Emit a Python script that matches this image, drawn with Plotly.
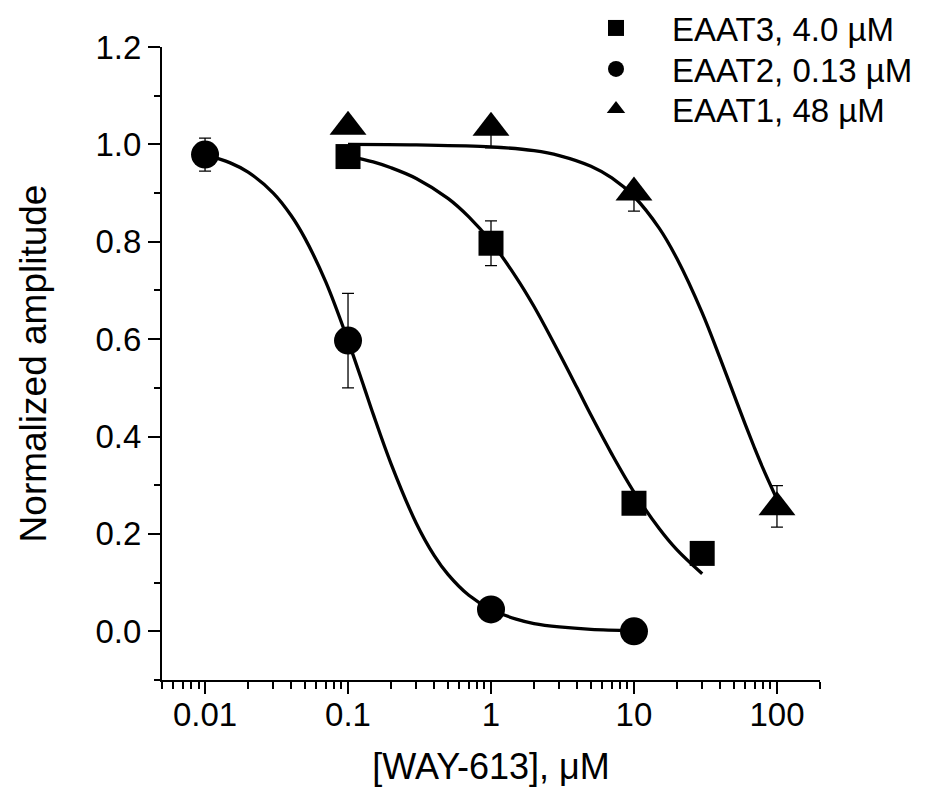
import plotly.graph_objects as go

conc_eaat3 = [0.1, 1, 10, 30]
amp_eaat3 = [0.975, 0.797, 0.263, 0.160]
errp_eaat3 = [0.01, 0.046, 0.01, 0.01]
errm_eaat3 = [0.01, 0.046, 0.01, 0.01]

conc_eaat2 = [0.01, 0.1, 1, 10]
amp_eaat2 = [0.979, 0.597, 0.045, 0.0]
errp_eaat2 = [0.034, 0.097, 0.01, 0.01]
errm_eaat2 = [0.034, 0.097, 0.01, 0.01]

conc_eaat1 = [0.1, 1, 10, 100]
amp_eaat1 = [1.036, 1.034, 0.901, 0.255]
errp_eaat1 = [0.01, 0.01, 0.01, 0.044]
errm_eaat1 = [0.01, 0.041, 0.038, 0.041]

# ---- fitted curves ----
fit3_x = [0.1, 0.15, 0.2, 0.3, 0.5, 0.7, 1, 1.5, 2, 3, 4, 5, 7, 10, 15, 20, 30]
fit3_y = [0.976, 0.964, 0.952, 0.930, 0.889, 0.851, 0.800, 0.727, 0.667, 0.571,
          0.500, 0.444, 0.364, 0.286, 0.211, 0.167, 0.118]

fit2_x = [0.01, 0.015, 0.02, 0.03, 0.04, 0.05, 0.07, 0.1, 0.13, 0.15, 0.2, 0.3,
          0.4, 0.5, 0.7, 1, 1.5, 2, 3, 5, 10]
fit2_y = [0.979, 0.962, 0.943, 0.900, 0.854, 0.807, 0.717, 0.597, 0.500, 0.446,
          0.344, 0.222, 0.156, 0.117, 0.074, 0.045, 0.025, 0.016, 0.009, 0.004, 0.0015]

fit1_x = [0.1, 0.3, 1, 2, 3, 5, 7, 10, 15, 20, 30, 40, 48, 60, 70, 80, 100]
fit1_y = [1.000, 0.999, 0.995, 0.987, 0.977, 0.955, 0.931, 0.893, 0.828, 0.765,
          0.654, 0.561, 0.500, 0.425, 0.375, 0.334, 0.271]

labels = ["EAAT3, 4.0 µM", "EAAT2, 0.13 µM", "EAAT1, 48 µM"]

x_tickvals = [0.01, 0.1, 1, 10, 100]
x_ticktext = ["0.01", "0.1", "1", "10", "100"]
y_tickvals = [0.0, 0.2, 0.4, 0.6, 0.8, 1.0, 1.2]

FONT = "Arial, 'Liberation Sans', Helvetica, sans-serif"
BLACK = "black"

fig = go.Figure()

# curves
for fx, fy in [(fit3_x, fit3_y), (fit2_x, fit2_y), (fit1_x, fit1_y)]:
    fig.add_trace(go.Scatter(x=fx, y=fy, mode="lines",
                             line=dict(color=BLACK, width=3.3, shape="spline"),
                             showlegend=False, hoverinfo="skip"))

# data points
specs = [
    (conc_eaat3, amp_eaat3, errp_eaat3, errm_eaat3, "square", 25, labels[0], "legend"),
    (conc_eaat2, amp_eaat2, errp_eaat2, errm_eaat2, "circle", 28, labels[1], "legend2"),
    (conc_eaat1, amp_eaat1, errp_eaat1, errm_eaat1, "triangle-up", 32, labels[2], "legend3"),
]
for cx, cy, ep, em, sym, sz, lab, lg in specs:
    fig.add_trace(go.Scatter(
        x=cx, y=cy, mode="markers", name=lab, legend=lg,
        marker=dict(symbol=sym, size=sz, color=BLACK, line=dict(width=0)),
        error_y=dict(type="data", array=ep, arrayminus=em, symmetric=False,
                     color=BLACK, thickness=1.3, width=6),
    ))

minor_x = [m * 10 ** k for k in range(-3, 3) for m in range(2, 10)]
minor_x = [v for v in minor_x if 0.0049 < v < 201]

LEG_FONT = dict(family=FONT, size=33, color=BLACK)
leg_rows = [28, 69, 109]   # pixel centres of the legend rows
def legend_at(yc):
    return dict(xref="container", yref="container", x=560 / 925, y=1 - yc / 801,
                xanchor="left", yanchor="middle", bgcolor="rgba(0,0,0,0)",
                borderwidth=0, font=LEG_FONT, itemsizing="trace", itemwidth=102)

fig.update_layout(
    width=925, height=801,
    margin=dict(l=162, r=105, t=47, b=121, autoexpand=False),
    paper_bgcolor="white", plot_bgcolor="white",
    font=dict(family=FONT, color=BLACK, size=33),
    showlegend=True,
    legend=legend_at(leg_rows[0]),
    legend2=legend_at(leg_rows[1]),
    legend3=legend_at(leg_rows[2]),
    xaxis=dict(
        type="log", range=[-2.30103, 2.30103],
        tickvals=x_tickvals, ticktext=x_ticktext,
        ticks="outside", ticklen=12, tickwidth=2, tickcolor=BLACK,
        showline=True, linecolor=BLACK, linewidth=2, mirror=False,
        showgrid=False, zeroline=False,
        tickfont=dict(family=FONT, size=33, color=BLACK),
        ticklabelstandoff=-8,
        minor=dict(tickvals=minor_x, ticks="outside", ticklen=7, tickwidth=2,
                   tickcolor=BLACK, showgrid=False),
        title=dict(text="[WAY-613], μM", font=dict(family=FONT, size=36, color=BLACK), standoff=22),
    ),
    yaxis=dict(
        range=[-0.1, 1.2],
        tickvals=y_tickvals, tickformat=".1f",
        ticks="outside", ticklen=12, tickwidth=2, tickcolor=BLACK,
        showline=True, linecolor=BLACK, linewidth=2, mirror=False,
        showgrid=False, zeroline=False,
        tickfont=dict(family=FONT, size=33, color=BLACK),
        minor=dict(dtick=0.1, tick0=0, ticks="outside", ticklen=6, tickwidth=2,
                   tickcolor=BLACK, showgrid=False),
        title=dict(text="Normalized amplitude", font=dict(family=FONT, size=37, color=BLACK), standoff=38),
    ),
)

fig.write_html("out.html", config={"displayModeBar": False},
               post_script="document.body.style.margin='0px';")
